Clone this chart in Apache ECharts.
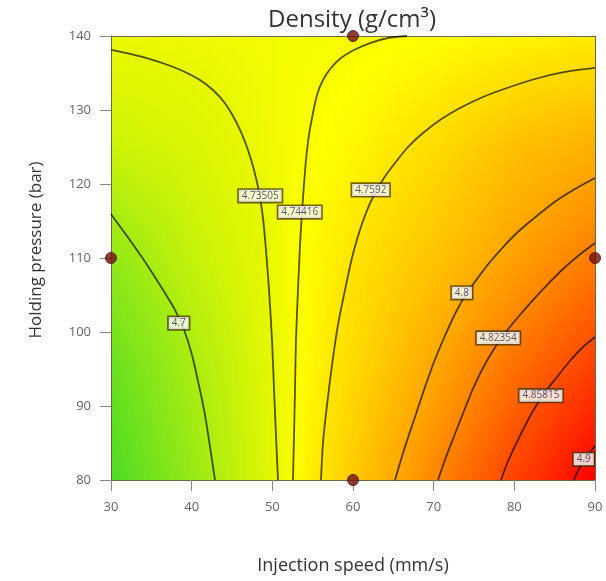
<!DOCTYPE html>
<html><head><meta charset="utf-8">
<script src="https://cdn.jsdelivr.net/npm/echarts@6/dist/echarts.min.js"></script>
<style>html,body{margin:0;padding:0;background:#fff}#c{width:606px;height:581px}</style>
</head><body><div id="c"></div>
<script>
// ---- axis ticks ----
const xTicks = [30, 40, 50, 60, 70, 80, 90];
const yTicks = [80, 90, 100, 110, 120, 130, 140];

// ---- contour lines: [injection speed, holding pressure] ----
const c4_7 = [[30,115.9],[32.35,112.4],[34.58,108.9],[36.44,105.7],[37.93,103.0],[39.05,100.3],[40.04,96.9],[40.90,92.8],[41.65,88.8],[42.27,84.5],[42.89,80]];
const c4_73505 = [[30,138.11],[32.36,137.57],[34.83,136.89],[37.07,136.08],[39.17,135.14],[41.03,134.05],[42.64,132.70],[44.01,131.08],[45.12,129.19],[46.11,127.03],[46.98,124.59],[47.73,121.89],[48.35,118.92],[48.84,115.41],[49.21,111.08],[49.59,105.68],[49.96,98.92],[50.21,92.16],[50.45,86.08],[50.70,80]];
const c4_74416 = [[66.69,140],[64.34,139.73],[62.11,139.05],[60.12,138.11],[58.51,137.03],[57.27,135.68],[56.28,134.05],[55.54,132.03],[55.04,129.59],[54.54,126.62],[54.17,123.24],[53.92,119.86],[53.68,116.22],[53.43,111.76],[53.18,105.68],[52.93,98.92],[52.81,92.16],[52.69,86.08],[52.56,80]];
const c4_7592 = [[90,135.68],[86.28,135.14],[82.56,134.19],[79.09,132.97],[76.11,131.76],[73.26,130.27],[70.78,128.65],[68.68,126.89],[66.82,125.0],[65.21,122.84],[63.84,120.81],[62.60,118.51],[61.61,116.08],[60.74,113.38],[59.87,110.0],[59.01,105.68],[58.14,100.95],[57.40,95.54],[56.78,90.14],[56.28,85.0],[56.03,80]];
const c4_8 = [[90,120.81],[87.52,119.32],[85.16,117.70],[82.93,115.81],[80.70,113.78],[78.72,111.62],[76.98,109.46],[75.37,107.16],[73.88,104.86],[72.52,102.16],[71.28,99.19],[70.04,95.95],[68.80,92.16],[67.56,88.11],[66.32,84.05],[65.21,80]];
const c4_82354 = [[90,112.03],[87.89,110.27],[85.91,108.38],[84.05,106.35],[82.31,104.32],[80.58,102.16],[78.96,100.0],[77.48,97.70],[76.11,95.14],[74.87,92.30],[73.76,89.32],[72.64,86.22],[71.53,83.11],[70.54,80]];
const c4_85815 = [[90,99.32],[88.39,97.84],[86.77,95.95],[85.29,93.92],[83.92,92.03],[82.68,90.0],[81.57,87.84],[80.45,85.41],[79.34,82.84],[78.34,80]];
const c4_9 = [[90,84.59],[89.01,83.24],[88.14,81.76],[87.39,80]];

// ---- contour label positions ----
const contourLabels = [
  [38.4,101.2,'4.7'], [48.5,118.4,'4.73505'], [53.4,116.2,'4.74416'], [62.2,119.2,'4.7592'],
  [73.5,105.3,'4.8'], [78.0,99.2,'4.82354'], [83.3,91.4,'4.85815'], [88.6,82.8,'4.9']
];

// ---- design points ----
const designPoints = [[60,140],[30,110],[90,110],[60,80]];

// ---- estimated density field (for background shading) ----
const fieldX = [30, 40, 50, 60, 70, 80, 90];
const fieldY = [140, 125, 110, 95, 80];
const fieldRow140 = [4.736, 4.738, 4.740, 4.742, 4.745, 4.750, 4.755];
const fieldRow125 = [4.720, 4.727, 4.739, 4.749, 4.765, 4.785, 4.796];
const fieldRow110 = [4.688, 4.716, 4.736, 4.760, 4.782, 4.806, 4.830];
const fieldRow95  = [4.665, 4.701, 4.734, 4.767, 4.802, 4.838, 4.870];
const fieldRow80  = [4.650, 4.691, 4.733, 4.777, 4.823, 4.867, 4.910];
const fieldRows = [fieldRow140, fieldRow125, fieldRow110, fieldRow95, fieldRow80];

// colour scale (style)
const cmapV = [4.65, 4.70, 4.735, 4.745, 4.76, 4.80, 4.823, 4.858, 4.91];
const cmapC = ['#4cdb24','#a6ec12','#e8f800','#ffff00','#ffe400','#ffaa00','#ff8800','#ff5000','#ff0000'];

function hex2rgb(h){return [parseInt(h.slice(1,3),16),parseInt(h.slice(3,5),16),parseInt(h.slice(5,7),16)];}
function cmap(v){
  if (v <= cmapV[0]) return cmapC[0];
  for (let i=1;i<cmapV.length;i++){
    if (v <= cmapV[i]){
      const t=(v-cmapV[i-1])/(cmapV[i]-cmapV[i-1]);
      const a=hex2rgb(cmapC[i-1]), b=hex2rgb(cmapC[i]);
      return 'rgb('+a.map((x,k)=>Math.round(x+(b[k]-x)*t)).join(',')+')';
    }
  }
  return cmapC[cmapC.length-1];
}
function fieldAt(x,y){
  let r=0; while(r<fieldY.length-2 && y<fieldY[r+1]) r++;
  const ty=(fieldY[r]-y)/(fieldY[r]-fieldY[r+1]);
  let c=0; while(c<fieldX.length-2 && x>fieldX[c+1]) c++;
  const tx=(x-fieldX[c])/(fieldX[c+1]-fieldX[c]);
  const a=fieldRows[r][c]*(1-tx)+fieldRows[r][c+1]*tx;
  const b=fieldRows[r+1][c]*(1-tx)+fieldRows[r+1][c+1]*tx;
  return a*(1-ty)+b*ty;
}

const chart = echarts.init(document.getElementById('c'), null, {renderer:'canvas'});
const FONT = '"Open Sans", "Noto Sans", sans-serif';
const lineStyle = {color:'rgba(0,0,0,0.66)', width:1.8};
const contourSets = [c4_7, c4_73505, c4_74416, c4_7592, c4_8, c4_82354, c4_85815, c4_9];

const series = contourSets.map(d => ({
  type:'line', data:d, symbol:'none', smooth:0.25, lineStyle:lineStyle, z:3, silent:true
}));
series.push({
  type:'scatter', data:contourLabels, symbolSize:1, itemStyle:{color:'rgba(0,0,0,0)'}, z:5, silent:true,
  label:{show:true, position:'inside', formatter:p=>p.value[2], fontSize:10, fontFamily:FONT,
    color:'#24305a', backgroundColor:'#ffffff', borderColor:'rgba(60,45,0,0.9)', borderWidth:1.6,
    padding:[1,3,0,3], lineHeight:11}
});
series.push({
  type:'scatter', data:designPoints, symbolSize:11, clip:false, z:6, silent:true,
  itemStyle:{color:'#720f0b', borderColor:'#560a06', borderWidth:1}
});

const frameColor = '#6a6a48';
chart.setOption({
  animation:false,
  title:{text:'Density (g/cm³)', left:347, textAlign:'center', top:3,
    textStyle:{fontFamily:FONT, fontSize:24, fontWeight:'normal', color:'#333'}},
  grid:{left:111, top:36, right:11, bottom:101},
  xAxis:[
    {type:'value', min:xTicks[0], max:xTicks[xTicks.length-1], interval:xTicks[1]-xTicks[0], position:'bottom',
     name:'Injection speed (mm/s)', nameLocation:'middle', nameGap:77,
     nameTextStyle:{fontFamily:FONT, fontSize:18, color:'#333'},
     axisLine:{show:true, lineStyle:{color:frameColor, width:1}},
     axisTick:{show:true, length:11, lineStyle:{color:'#888'}},
     axisLabel:{color:'#666', fontSize:13, fontFamily:FONT, margin:21},
     splitLine:{show:false}},
    {type:'value', min:xTicks[0], max:xTicks[xTicks.length-1], position:'top',
     axisLine:{show:true, lineStyle:{color:frameColor}}, axisTick:{show:false}, axisLabel:{show:false}, splitLine:{show:false}}
  ],
  yAxis:[
    {type:'value', min:yTicks[0], max:yTicks[yTicks.length-1], interval:yTicks[1]-yTicks[0], position:'left',
     name:'Holding pressure (bar)', nameLocation:'middle', nameGap:66,
     nameTextStyle:{fontFamily:FONT, fontSize:17, color:'#333', padding:[0,0,0,16]},
     axisLine:{show:true, lineStyle:{color:frameColor}},
     axisTick:{show:true, length:11, lineStyle:{color:'#888'}},
     axisLabel:{color:'#666', fontSize:13, fontFamily:FONT, margin:20},
     splitLine:{show:false}},
    {type:'value', min:yTicks[0], max:yTicks[yTicks.length-1], position:'right',
     axisLine:{show:true, lineStyle:{color:frameColor}}, axisTick:{show:false}, axisLabel:{show:false}, splitLine:{show:false}}
  ],
  series: series
});

// background shading from the estimated field
const p0 = chart.convertToPixel({gridIndex:0}, [xTicks[0], yTicks[yTicks.length-1]]);
const p1 = chart.convertToPixel({gridIndex:0}, [xTicks[xTicks.length-1], yTicks[0]]);
const L=p0[0], T=p0[1], W=p1[0]-p0[0], H=p1[1]-p0[1];
const nStrips = Math.ceil(H/3);
const sh = H/nStrips;
const els = [];
const nStops = 61;
for (let s=0;s<nStrips;s++){
  const yc = T + (s+0.5)*sh;
  const yv = chart.convertFromPixel({gridIndex:0},[L,yc])[1];
  const stops=[];
  for (let k=0;k<nStops;k++){
    const off=k/(nStops-1);
    const xv = xTicks[0] + off*(xTicks[xTicks.length-1]-xTicks[0]);
    stops.push({offset:off, color:cmap(fieldAt(xv,yv))});
  }
  els.push({type:'rect', silent:true, z:-100, shape:{x:L, y:T+s*sh, width:W, height:sh+0.8},
    style:{fill:{type:'linear', x:0, y:0, x2:1, y2:0, colorStops:stops}}});
}
chart.setOption({graphic:{elements:els}});
</script>
</body></html>
